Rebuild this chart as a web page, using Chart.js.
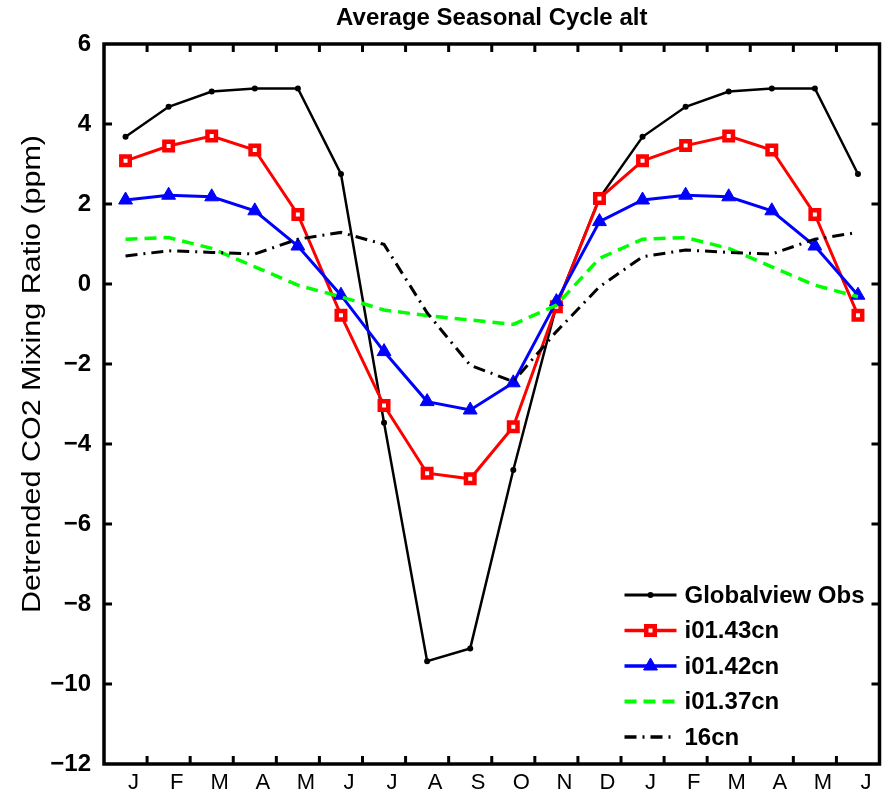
<!DOCTYPE html>
<html>
<head>
<meta charset="utf-8">
<title>Average Seasonal Cycle alt</title>
<script src="https://cdn.jsdelivr.net/npm/chart.js@4.4.0/dist/chart.umd.min.js"></script>
<style>
  html, body { margin: 0; padding: 0; background: #fff; }
  #wrap { width: 890px; height: 795px; }
</style>
</head>
<body>
<div id="wrap"><canvas id="seasonal" width="890" height="795"></canvas></div>
<script>
// 18 months: Jan..Dec then Jan..Jun again
const months = ['J', 'F', 'M', 'A', 'M', 'J', 'J', 'A', 'S', 'O', 'N', 'D', 'J', 'F', 'M', 'A', 'M', 'J'];
const yTickValues = [-12, -10, -8, -6, -4, -2, 0, 2, 4, 6];

const globalviewObs = [3.68, 4.43, 4.81, 4.89, 4.89, 2.75, -3.47, -9.43, -9.11, -4.65, -0.55, 2.15, 3.68, 4.43, 4.81, 4.89, 4.89, 2.75];
const i0143cn = [3.08, 3.45, 3.70, 3.35, 1.74, -0.78, -3.04, -4.73, -4.87, -3.57, -0.57, 2.14, 3.08, 3.46, 3.70, 3.35, 1.74, -0.78];
const i0142cn = [2.10, 2.22, 2.18, 1.83, 0.95, -0.28, -1.69, -2.94, -3.15, -2.47, -0.44, 1.56, 2.10, 2.22, 2.18, 1.83, 0.95, -0.28];
const i0137cn = [1.12, 1.16, 0.89, 0.43, -0.03, -0.32, -0.65, -0.79, -0.90, -1.01, -0.53, 0.64, 1.12, 1.16, 0.89, 0.43, -0.03, -0.32];
const cn16 = [0.70, 0.83, 0.79, 0.75, 1.12, 1.29, 0.99, -0.72, -2.03, -2.44, -1.19, -0.07, 0.68, 0.85, 0.79, 0.75, 1.12, 1.29];

const FONT = '"Liberation Sans", Arial, Helvetica, sans-serif';
const yTitle = 'Detrended CO2 Mixing Ratio (ppm)';

// small marker drawer, used for the legend samples
function marker(ctx, ds, x, y) {
    if (!ds.pointRadius) return;
    const r = ds.pointRadius;
    ctx.save();
    ctx.fillStyle = ds.pointBackgroundColor;
    ctx.strokeStyle = ds.pointBorderColor;
    ctx.lineWidth = ds.pointBorderWidth;
    ctx.setLineDash([]);
    ctx.beginPath();
    if (ds.pointStyle === 'rect') {
        const s = r * Math.SQRT1_2;
        ctx.rect(x - s, y - s, 2 * s, 2 * s);
    } else if (ds.pointStyle === 'triangle') {
        ctx.moveTo(x, y - r);
        ctx.lineTo(x + r * 0.866, y + r * 0.5);
        ctx.lineTo(x - r * 0.866, y + r * 0.5);
        ctx.closePath();
    } else {
        ctx.arc(x, y, r, 0, Math.PI * 2);
    }
    ctx.fill();
    if (ds.pointBorderWidth) ctx.stroke();
    ctx.restore();
}

// box round the plot, inward tick marks, rotated y title, legend
const matlabFrame = {
    id: 'matlabFrame',
    afterDraw(chart) {
        const ctx = chart.ctx;
        const a = chart.chartArea;
        const x = chart.scales.x;
        const y = chart.scales.y;
        ctx.save();
        ctx.strokeStyle = '#000';
        ctx.lineJoin = 'miter';
        ctx.lineWidth = 3.5;
        ctx.strokeRect(a.left, a.top, a.right - a.left, a.bottom - a.top);

        ctx.lineWidth = 3;
        ctx.beginPath();
        for (let i = 1; i < months.length; i++) {
            const px = (x.getPixelForValue(i - 1) + x.getPixelForValue(i)) / 2;
            ctx.moveTo(px, a.bottom); ctx.lineTo(px, a.bottom - 8);
            ctx.moveTo(px, a.top); ctx.lineTo(px, a.top + 8);
        }
        y.ticks.forEach(t => {
            if (t.value <= y.min || t.value >= y.max) return;
            const py = y.getPixelForValue(t.value);
            ctx.moveTo(a.left, py); ctx.lineTo(a.left + 8, py);
            ctx.moveTo(a.right, py); ctx.lineTo(a.right - 8, py);
        });
        ctx.stroke();

        // y axis title, stretched along its length like the original
        ctx.save();
        ctx.translate(40, 374);
        ctx.rotate(-Math.PI / 2);
        ctx.font = '25px ' + FONT;
        const w = ctx.measureText(yTitle).width;
        ctx.scale(478 / w, 1);
        ctx.fillStyle = '#000';
        ctx.textAlign = 'center';
        ctx.textBaseline = 'alphabetic';
        ctx.fillText(yTitle, 0, 0);
        ctx.restore();

        // legend in the lower right corner of the plot
        const x0 = a.right - 255, x1 = a.right - 203, tx = a.right - 195;
        let rowY = a.bottom - 169;
        ctx.font = 'bold 24px ' + FONT;
        ctx.textBaseline = 'middle';
        ctx.textAlign = 'left';
        chart.data.datasets.forEach(ds => {
            ctx.save();
            ctx.strokeStyle = ds.borderColor;
            ctx.lineWidth = ds.borderWidth + 0.5;
            ctx.setLineDash(ds.borderDash || []);
            ctx.beginPath();
            ctx.moveTo(x0, rowY); ctx.lineTo(x1, rowY);
            ctx.stroke();
            ctx.restore();
            marker(ctx, ds, (x0 + x1) / 2, rowY);
            ctx.fillStyle = '#000';
            ctx.fillText(ds.label, tx, rowY + 1);
            rowY += 35.5;
        });
        ctx.restore();
    }
};

new Chart(document.getElementById('seasonal'), {
    type: 'line',
    data: {
        labels: months,
        datasets: [
            {
                label: 'Globalview Obs', data: globalviewObs, order: 5,
                borderColor: '#000', borderWidth: 2.5,
                pointStyle: 'circle', pointRadius: 3,
                pointBackgroundColor: '#000', pointBorderColor: '#000', pointBorderWidth: 0
            },
            {
                label: 'i01.43cn', data: i0143cn, order: 4,
                borderColor: '#ff0000', borderWidth: 3,
                pointStyle: 'rect', pointRadius: 6,
                pointBackgroundColor: '#ffffff', pointBorderColor: '#ff0000', pointBorderWidth: 4.5
            },
            {
                label: 'i01.42cn', data: i0142cn, order: 3,
                borderColor: '#0000ff', borderWidth: 3,
                pointStyle: 'triangle', pointRadius: 8,
                pointBackgroundColor: '#0000ff', pointBorderColor: '#0000ff', pointBorderWidth: 1
            },
            {
                label: 'i01.37cn', data: i0137cn, order: 2,
                borderColor: '#00ff00', borderWidth: 3.5, borderDash: [12, 7],
                pointRadius: 0
            },
            {
                label: '16cn', data: cn16, order: 1,
                borderColor: '#000', borderWidth: 3, borderDash: [12, 6, 2, 6],
                pointRadius: 0
            }
        ]
    },
    options: {
        responsive: false,
        animation: false,
        layout: { padding: { left: 0, right: 10, top: 0, bottom: 0 } },
        elements: { line: { tension: 0, fill: false } },
        plugins: {
            legend: { display: false },
            tooltip: { enabled: false },
            title: {
                display: true,
                fullSize: false,
                text: 'Average Seasonal Cycle alt',
                color: '#000',
                font: { family: FONT, size: 24, weight: 'bold' },
                padding: { top: 4, bottom: 11.2 }
            }
        },
        scales: {
            x: {
                type: 'category',
                offset: true,
                grid: { display: false, offset: true },
                border: { display: false },
                ticks: {
                    autoSkip: false, maxRotation: 0, minRotation: 0,
                    labelOffset: 8, padding: -2, color: '#000',
                    font: { family: FONT, size: 22 }
                },
                afterFit: s => { s.height = 31; }
            },
            y: {
                min: -12, max: 6,
                afterBuildTicks: s => { s.ticks = yTickValues.map(v => ({ value: v })); },
                grid: { display: false },
                border: { display: false },
                ticks: {
                    padding: 5, color: '#000',
                    font: { family: FONT, size: 24, weight: 'bold' },
                    callback: v => String(v).replace('-', '\u2212')
                },
                afterFit: s => { s.width = 104; }
            }
        }
    },
    plugins: [matlabFrame]
});
</script>
</body>
</html>
